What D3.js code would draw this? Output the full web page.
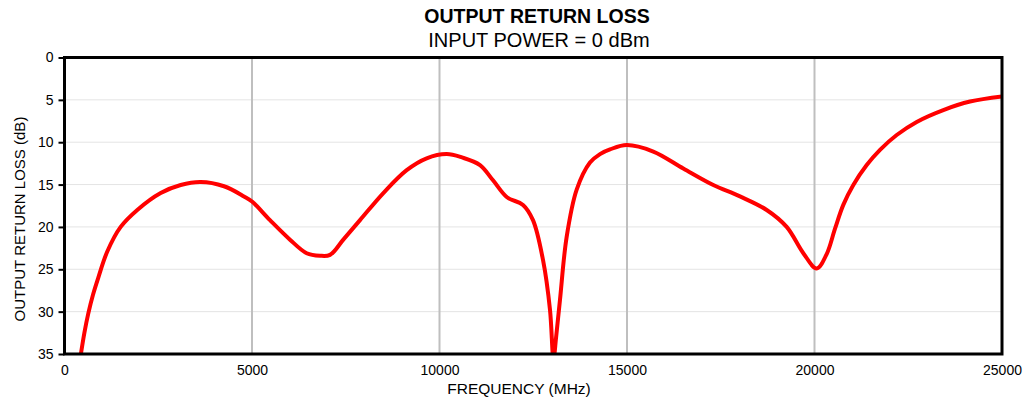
<!DOCTYPE html>
<html>
<head>
    <meta charset="utf-8">
    <style>
        body { margin: 0; background: white; }
        svg { font-family: 'Liberation Sans', Arial, sans-serif; }
    </style>
</head>
<body>
<svg width="1024" height="400"></svg>

<script src="https://d3js.org/d3.v7.min.js"></script>
<script>
    // frequency in MHz, return loss in dB
    let freq = [430, 530, 635, 760, 900, 1141, 1498, 1941, 2565, 3098, 3632, 4253, 4787, 5000,
        5480, 6013, 6458, 6813, 7080, 7435, 7880, 8502, 9125, 9658, 10192, 10600, 11080, 11427,
        11800, 12227, 12493, 12760, 12947, 13040, 13110, 13213, 13390, 13658, 14013, 14280, 14547,
        14992, 15701, 16501, 17301, 18013, 18725, 19258, 19702, 20059, 20325, 20547, 20768, 21035,
        21392, 21747, 22192, 22725, 23435, 24147, 25000];
    let loss = [35.2, 32.5, 30.2, 28.0, 26.0, 22.9, 20.0, 18.0, 16.0, 15.05, 14.7, 15.2, 16.4, 17.0,
        19.2, 21.5, 23.1, 23.4, 23.3, 21.5, 19.2, 16.0, 13.3, 11.9, 11.4, 11.8, 12.7, 14.5,
        16.5, 17.4, 19.2, 23.9, 29.8, 35.6, 33.0, 28.6, 21.2, 15.6, 12.4, 11.4, 10.85,
        10.33, 11.1, 13.1, 15.05, 16.4, 18.0, 20.0, 23.1, 24.9, 23.2, 20.2, 17.4, 15.05,
        12.7, 10.9, 9.15, 7.6, 6.2, 5.2, 4.6];

    let xTicks = [0, 5000, 10000, 15000, 20000, 25000];
    let yTicks = [0, 5, 10, 15, 20, 25, 30, 35];

    let svg = d3.select("svg");

    let pLeft = 64.5, pRight = 1002, pTop = 57.5, pBottom = 354;

    let x = d3.scaleLinear().domain([0, 25000]).range([pLeft, pRight]);
    let y = d3.scaleLinear().domain([0, 35]).range([pTop, pBottom]);

    // horizontal grid
    svg.selectAll(".hgrid")
        .data(yTicks.slice(1, -1))
        .join("line")
        .attr("x1", pLeft).attr("x2", pRight)
        .attr("y1", d => y(d)).attr("y2", d => y(d))
        .style("stroke", "#e4e4e4")
        .style("stroke-width", 1);

    // vertical grid
    svg.selectAll(".vgrid")
        .data(xTicks.slice(1, -1))
        .join("line")
        .attr("x1", d => x(d)).attr("x2", d => x(d))
        .attr("y1", pTop).attr("y2", pBottom)
        .style("stroke", "#bfbfbf")
        .style("stroke-width", 2);

    svg.append("defs").append("clipPath").attr("id", "plot")
        .append("rect")
        .attr("x", pLeft).attr("y", pTop)
        .attr("width", pRight - pLeft).attr("height", pBottom - pTop);

    let line = d3.line()
        .x(d => x(d[0]))
        .y(d => y(d[1]))
        .curve(d3.curveCatmullRom.alpha(0.5));

    svg.append("path")
        .attr("d", line(d3.zip(freq, loss)))
        .attr("clip-path", "url(#plot)")
        .style("fill", "none")
        .style("stroke", "#ff0000")
        .style("stroke-width", 4)
        .style("stroke-linejoin", "round");

    // frame
    svg.append("rect")
        .attr("x", pLeft).attr("y", pTop)
        .attr("width", pRight - pLeft).attr("height", pBottom - pTop)
        .style("fill", "none")
        .style("stroke", "black")
        .style("stroke-width", 3);

    // y axis ticks and labels
    let yAxis = d3.axisLeft(y).tickValues(yTicks).tickSize(6).tickPadding(5);
    let ya = svg.append("g").attr("transform", `translate(${pLeft},0)`).call(yAxis);
    ya.select(".domain").remove();
    ya.selectAll("line").style("stroke", "black").style("stroke-width", 2);
    ya.selectAll("text").style("font-size", "14px").style("font-family", "'Liberation Sans', Arial, sans-serif").style("fill", "black");

    let xAxis = d3.axisBottom(x).tickValues(xTicks).tickSize(0).tickPadding(11).tickFormat(d3.format("d"));
    let xa = svg.append("g").attr("transform", `translate(0,${pBottom})`).call(xAxis);
    xa.select(".domain").remove();
    xa.selectAll("text").style("font-size", "14px").style("font-family", "'Liberation Sans', Arial, sans-serif").style("fill", "black");

    // titles
    svg.append("text")
        .text("OUTPUT RETURN LOSS")
        .attr("x", 537).attr("y", 23)
        .attr("text-anchor", "middle")
        .style("font-size", "19.5px")
        .style("font-weight", "bold");

    svg.append("text")
        .text("INPUT POWER = 0 dBm")
        .attr("x", 539).attr("y", 47)
        .attr("text-anchor", "middle")
        .style("font-size", "20px");

    svg.append("text")
        .text("FREQUENCY (MHz)")
        .attr("x", 519).attr("y", 394)
        .attr("text-anchor", "middle")
        .style("font-size", "15.5px");

    svg.append("text")
        .text("OUTPUT RETURN LOSS (dB)")
        .attr("transform", `translate(25,219) rotate(-90)`)
        .attr("text-anchor", "middle")
        .style("font-size", "15px");
</script>
</body>
</html>
